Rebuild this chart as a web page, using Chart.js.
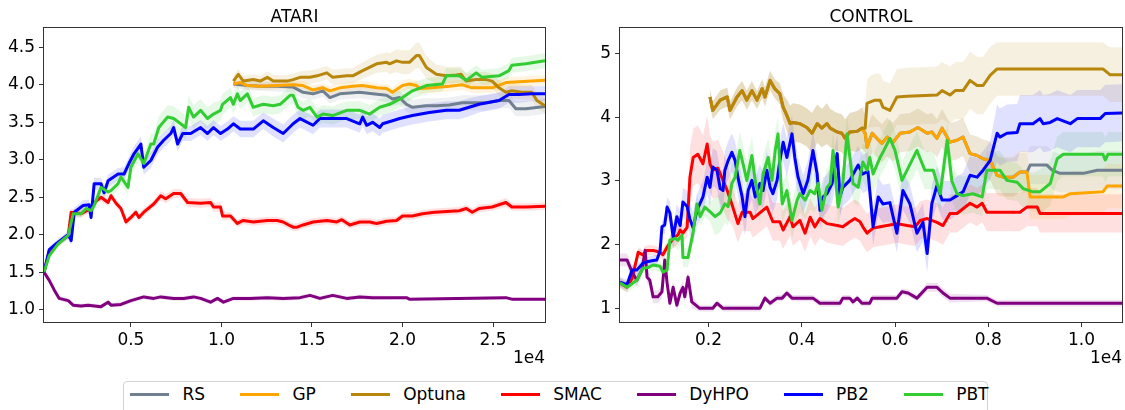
<!DOCTYPE html>
<html>
<head>
<meta charset="utf-8">
<script src="https://cdn.jsdelivr.net/npm/chart.js@4.4.0/dist/chart.umd.min.js"></script>
<style>
  html, body { margin: 0; padding: 0; background: #fff; }
  #page { position: relative; width: 1125px; height: 410px; overflow: hidden; font-family: 'DejaVu Sans', sans-serif; }
  #atari { position: absolute; left: 0; top: 0; }
  #control { position: absolute; left: 560px; top: 0; }
  #legend { position: absolute; left: 123px; top: 381px; width: 865px; height: 40px; box-sizing: border-box;
            border: 1px solid #d3d3d3; border-radius: 4px; display: flex; align-items: flex-start;
            padding: 2px 0 0 6px; gap: 34.8px; background: #fff; }
  .item { display: flex; align-items: center; height: 20px; font-size: 17px; color: #000; white-space: nowrap; }
  .swatch { width: 39px; height: 3px; margin-right: 13.5px; }
</style>
</head>
<body>
<div id="page">
  <canvas id="atari" width="560" height="372"></canvas>
  <canvas id="control" width="565" height="372"></canvas>
  <div id="legend"></div>
</div>
<script>
// ---------- methods ----------
const methods = ['RS', 'GP', 'Optuna', 'SMAC', 'DyHPO', 'PB2', 'PBT'];
const methodColors = ['#708090', '#FFA500', '#B8860B', '#FF0000', '#800080', '#0000FF', '#32CD32'];

// ---------- ATARI (x in environment steps) ----------
const atariXRange = [200, 27870];
const atariYRange = [0.835, 4.753];
const atariXTicks = [5000, 10000, 15000, 20000, 25000];
const atariYTicks = [1.0, 1.5, 2.0, 2.5, 3.0, 3.5, 4.0, 4.5];

const atariRSX = [10660, 11430, 12140, 13080, 13960, 14510, 15060, 15600, 15990, 16540, 17640, 18350, 19120, 19450, 19840, 20000, 20220, 20550, 21320, 21870, 22580, 23300, 23850, 24620, 25330, 25880, 26260, 26810, 27870];
const atariRSY = [4.01, 3.99, 3.98, 3.98, 3.97, 3.9, 3.88, 3.92, 3.83, 3.88, 3.9, 3.88, 3.86, 3.81, 3.83, 3.79, 3.74, 3.7, 3.72, 3.72, 3.73, 3.76, 3.76, 3.76, 3.79, 3.79, 3.68, 3.68, 3.71];
const atariRSS = [0.05, 0.06, 0.06, 0.07, 0.07, 0.08, 0.08, 0.08, 0.08, 0.08, 0.08, 0.08, 0.09, 0.09, 0.09, 0.09, 0.1, 0.1, 0.1, 0.1, 0.1, 0.1, 0.1, 0.1, 0.1, 0.1, 0.1, 0.1, 0.1];

const atariGPX = [10660, 11040, 11430, 12140, 13080, 13960, 14510, 15060, 15600, 15990, 16540, 17250, 17800, 18570, 19120, 19450, 20000, 20380, 20770, 20930, 21650, 22580, 23300, 23850, 24950, 25710, 26430, 27140, 27870];
const atariGPY = [4.01, 4.03, 3.99, 3.98, 3.99, 4.0, 3.99, 3.93, 3.96, 3.92, 3.96, 3.98, 3.99, 3.96, 3.95, 3.9, 3.99, 4.01, 3.99, 3.95, 3.96, 3.98, 4.0, 3.96, 3.96, 4.03, 4.04, 4.05, 4.06];
const atariGPS = [0.05, 0.05, 0.05, 0.05, 0.05, 0.05, 0.06, 0.06, 0.06, 0.06, 0.06, 0.06, 0.06, 0.06, 0.06, 0.06, 0.07, 0.07, 0.07, 0.07, 0.07, 0.07, 0.07, 0.07, 0.07, 0.07, 0.07, 0.07, 0.07];

const atariOptunaX = [10660, 10930, 11210, 11760, 12140, 12530, 12860, 13630, 13960, 14340, 14890, 15280, 15820, 16150, 16920, 17250, 17800, 18570, 19120, 19290, 19670, 20000, 20380, 20770, 20930, 21320, 21870, 22420, 22970, 23240, 23520, 24070, 24620, 24950, 25330, 25710, 26040, 26590, 27140, 27420, 27870];
const atariOptunaY = [4.05, 4.14, 4.05, 4.07, 4.05, 4.1, 4.05, 4.05, 4.07, 4.1, 4.1, 4.12, 4.16, 4.1, 4.12, 4.12, 4.19, 4.28, 4.3, 4.28, 4.32, 4.3, 4.3, 4.39, 4.39, 4.23, 4.14, 4.12, 4.13, 4.14, 4.05, 4.07, 4.07, 4.05, 3.96, 3.9, 3.92, 3.9, 3.9, 3.79, 3.72];
const atariOptunaS = [0.07, 0.07, 0.07, 0.07, 0.07, 0.08, 0.08, 0.08, 0.08, 0.08, 0.09, 0.09, 0.09, 0.1, 0.1, 0.1, 0.11, 0.12, 0.13, 0.14, 0.15, 0.16, 0.16, 0.17, 0.17, 0.15, 0.13, 0.12, 0.11, 0.1, 0.1, 0.1, 0.1, 0.1, 0.1, 0.1, 0.1, 0.1, 0.1, 0.1, 0.1];

const atariSMACX = [200, 490, 880, 1260, 1540, 1700, 2250, 2800, 3080, 3350, 3740, 3900, 4180, 4450, 4730, 5000, 5270, 5440, 5710, 6260, 6650, 6920, 7360, 7750, 8130, 8850, 9400, 9560, 9950, 10060, 10500, 10880, 11210, 11760, 12530, 13080, 13410, 13790, 13960, 14180, 14510, 15060, 15820, 16370, 16650, 17090, 17640, 18190, 18570, 19120, 19670, 20000, 20550, 21100, 21760, 23130, 23520, 23850, 24230, 24950, 25710, 26040, 26810, 27870];
const atariSMACY = [1.5, 1.78, 1.87, 1.94, 1.99, 2.3, 2.28, 2.35, 2.45, 2.5, 2.43, 2.52, 2.42, 2.35, 2.17, 2.23, 2.3, 2.23, 2.3, 2.41, 2.52, 2.48, 2.55, 2.55, 2.43, 2.42, 2.43, 2.37, 2.37, 2.25, 2.25, 2.15, 2.19, 2.17, 2.19, 2.19, 2.17, 2.12, 2.1, 2.1, 2.13, 2.17, 2.19, 2.17, 2.2, 2.13, 2.17, 2.17, 2.15, 2.18, 2.19, 2.25, 2.25, 2.28, 2.3, 2.32, 2.35, 2.3, 2.35, 2.37, 2.43, 2.37, 2.37, 2.38];
const atariSMACS = [0.02, 0.03, 0.04, 0.04, 0.04, 0.05, 0.05, 0.05, 0.05, 0.05, 0.05, 0.05, 0.05, 0.05, 0.05, 0.05, 0.05, 0.05, 0.05, 0.05, 0.06, 0.06, 0.06, 0.06, 0.06, 0.06, 0.06, 0.06, 0.06, 0.06, 0.05, 0.05, 0.05, 0.05, 0.05, 0.05, 0.05, 0.05, 0.05, 0.05, 0.05, 0.05, 0.05, 0.05, 0.05, 0.05, 0.05, 0.05, 0.05, 0.05, 0.05, 0.05, 0.05, 0.05, 0.05, 0.05, 0.05, 0.05, 0.05, 0.05, 0.06, 0.05, 0.05, 0.05];

const atariDyHPOX = [200, 490, 770, 1040, 1540, 1810, 2250, 2640, 3350, 3740, 3900, 4450, 5000, 5710, 6260, 6650, 7360, 7910, 8460, 8850, 9400, 9780, 10110, 10660, 11590, 12530, 13410, 14340, 14890, 15440, 16150, 16920, 17640, 18350, 20220, 20380, 25710, 26040, 27870];
const atariDyHPOY = [1.5, 1.39, 1.26, 1.15, 1.12, 1.06, 1.05, 1.06, 1.04, 1.1, 1.06, 1.07, 1.12, 1.17, 1.15, 1.17, 1.15, 1.15, 1.17, 1.15, 1.1, 1.15, 1.1, 1.15, 1.15, 1.16, 1.15, 1.16, 1.19, 1.15, 1.19, 1.15, 1.17, 1.16, 1.16, 1.14, 1.16, 1.14, 1.14];
const atariDyHPOS = [0.01, 0.03, 0.03, 0.03, 0.03, 0.03, 0.03, 0.03, 0.03, 0.03, 0.03, 0.03, 0.03, 0.03, 0.03, 0.03, 0.03, 0.03, 0.03, 0.03, 0.03, 0.03, 0.03, 0.03, 0.03, 0.03, 0.03, 0.03, 0.03, 0.03, 0.03, 0.03, 0.03, 0.03, 0.02, 0.02, 0.02, 0.02, 0.02];

const atariPB2X = [200, 490, 880, 1260, 1540, 1700, 1870, 2360, 2690, 2800, 2970, 3350, 3520, 3740, 4290, 4620, 4890, 5170, 5550, 5710, 6100, 6480, 6810, 7200, 7360, 7580, 7860, 8300, 8850, 9230, 9560, 9950, 10330, 10660, 11040, 11760, 12310, 12860, 13410, 13960, 14340, 15060, 15440, 16920, 17640, 17800, 18020, 18350, 18740, 18900, 19450, 19840, 20550, 21480, 22420, 23130, 23680, 24230, 25330, 25880, 26430, 27140, 27870];
const atariPB2Y = [1.5, 1.8, 1.88, 1.95, 2.0, 1.92, 2.3, 2.39, 2.4, 2.23, 2.68, 2.68, 2.56, 2.72, 2.81, 2.81, 2.95, 3.08, 3.21, 2.9, 2.99, 3.17, 3.26, 3.35, 3.43, 3.21, 3.35, 3.35, 3.43, 3.35, 3.43, 3.35, 3.41, 3.48, 3.41, 3.41, 3.52, 3.43, 3.35, 3.48, 3.55, 3.46, 3.55, 3.55, 3.48, 3.57, 3.46, 3.5, 3.43, 3.48, 3.52, 3.55, 3.59, 3.63, 3.66, 3.66, 3.7, 3.74, 3.79, 3.87, 3.87, 3.88, 3.88];
const atariPB2S = [0.02, 0.04, 0.05, 0.05, 0.06, 0.06, 0.06, 0.07, 0.07, 0.07, 0.08, 0.08, 0.08, 0.08, 0.08, 0.09, 0.09, 0.1, 0.1, 0.1, 0.1, 0.1, 0.1, 0.1, 0.1, 0.1, 0.1, 0.1, 0.1, 0.1, 0.1, 0.1, 0.1, 0.1, 0.11, 0.11, 0.11, 0.12, 0.12, 0.12, 0.12, 0.12, 0.12, 0.12, 0.12, 0.12, 0.12, 0.12, 0.12, 0.12, 0.12, 0.12, 0.12, 0.12, 0.12, 0.12, 0.12, 0.11, 0.11, 0.11, 0.11, 0.1, 0.1];

const atariPBTX = [200, 490, 990, 1540, 1810, 2250, 2530, 2800, 2970, 3350, 3740, 3900, 4290, 4450, 4840, 5000, 5390, 5710, 6100, 6260, 6540, 7030, 7360, 7750, 8020, 8190, 8460, 8850, 9230, 9560, 9950, 10060, 10500, 10660, 10880, 11040, 11430, 11760, 12310, 12860, 13240, 13790, 13960, 14230, 14510, 14890, 15280, 15600, 16150, 16920, 17640, 18190, 18740, 19290, 20000, 20550, 21320, 22200, 22420, 23130, 23520, 24070, 24400, 25330, 25880, 26040, 26810, 27870];
const atariPBTY = [1.5, 1.72, 1.88, 1.99, 2.28, 2.28, 2.35, 2.32, 2.39, 2.63, 2.57, 2.59, 2.68, 2.77, 2.63, 2.9, 3.08, 2.95, 3.21, 3.21, 3.43, 3.57, 3.55, 3.48, 3.43, 3.7, 3.57, 3.66, 3.55, 3.61, 3.66, 3.74, 3.83, 3.74, 3.88, 3.79, 3.88, 3.7, 3.74, 3.72, 3.74, 3.86, 3.86, 3.7, 3.66, 3.7, 3.57, 3.61, 3.59, 3.66, 3.66, 3.61, 3.7, 3.74, 3.83, 3.92, 3.99, 4.01, 4.12, 4.12, 4.06, 4.16, 4.1, 4.12, 4.19, 4.26, 4.28, 4.32];
const atariPBTS = [0.02, 0.04, 0.05, 0.05, 0.06, 0.06, 0.06, 0.07, 0.07, 0.08, 0.08, 0.08, 0.09, 0.1, 0.1, 0.1, 0.12, 0.12, 0.14, 0.14, 0.15, 0.16, 0.16, 0.16, 0.16, 0.16, 0.16, 0.15, 0.15, 0.15, 0.14, 0.14, 0.13, 0.13, 0.12, 0.12, 0.12, 0.12, 0.12, 0.12, 0.12, 0.12, 0.12, 0.12, 0.12, 0.12, 0.12, 0.12, 0.12, 0.12, 0.12, 0.12, 0.11, 0.11, 0.11, 0.11, 0.1, 0.1, 0.1, 0.1, 0.1, 0.1, 0.1, 0.1, 0.1, 0.1, 0.1, 0.1];

// ---------- CONTROL (x in environment steps) ----------
const ctrlXRange = [100, 10870];
const ctrlYRange = [0.785, 5.397];
const ctrlXTicks = [2000, 4000, 6000, 8000, 10000];
const ctrlYTicks = [1, 2, 3, 4, 5];

// RS, GP and Optuna share the same trajectory until ~0.53e4
const ctrlSharedX = [2030, 2090, 2250, 2400, 2460, 2610, 2720, 2820, 2930, 3040, 3150, 3210, 3320, 3420, 3530, 3600, 3680, 3750, 3810, 3960, 4110, 4220, 4330, 4430, 4540, 4610, 4760, 4860, 4930, 5030, 5190, 5290];
const ctrlSharedY = [4.32, 4.11, 4.27, 4.32, 4.11, 4.32, 4.42, 4.27, 4.42, 4.27, 4.45, 4.32, 4.58, 4.45, 4.37, 4.16, 4.03, 3.9, 3.92, 3.9, 3.84, 3.75, 3.9, 3.83, 3.9, 3.83, 3.77, 3.75, 3.67, 3.77, 3.78, 3.83];
const ctrlSharedS = [0.12, 0.14, 0.15, 0.15, 0.14, 0.15, 0.15, 0.15, 0.15, 0.14, 0.15, 0.15, 0.15, 0.15, 0.16, 0.2, 0.25, 0.28, 0.3, 0.3, 0.3, 0.32, 0.3, 0.3, 0.32, 0.3, 0.3, 0.3, 0.3, 0.3, 0.32, 0.32];

const ctrlRSTailX = [5360, 5400, 5510, 5610, 5720, 5830, 5960, 6110, 6320, 6490, 6690, 6790, 6900, 7010, 7180, 7330, 7460, 7610, 7760, 7890, 8040, 8190, 8320, 8530, 8680, 8830, 8900, 9260, 9370, 9540, 10040, 10340, 10870];
const ctrlRSTailY = [3.75, 3.53, 3.75, 3.67, 3.59, 3.69, 3.61, 3.75, 3.77, 3.84, 3.75, 3.77, 3.67, 3.83, 3.61, 3.64, 3.69, 3.43, 3.4, 3.35, 3.32, 3.09, 3.06, 3.06, 3.14, 3.14, 3.25, 3.25, 3.17, 3.12, 3.12, 3.17, 3.17];
const ctrlRSTailS = [0.3, 0.3, 0.3, 0.3, 0.3, 0.3, 0.3, 0.3, 0.3, 0.3, 0.3, 0.3, 0.3, 0.3, 0.3, 0.3, 0.3, 0.3, 0.3, 0.3, 0.3, 0.3, 0.3, 0.3, 0.3, 0.3, 0.3, 0.3, 0.3, 0.3, 0.3, 0.3, 0.3];

const ctrlGPTailX = [5360, 5400, 5510, 5610, 5720, 5830, 5960, 6110, 6320, 6490, 6690, 6790, 6900, 7010, 7180, 7330, 7460, 7610, 7760, 7890, 8040, 8190, 8320, 8530, 8680, 8830, 8900, 9610, 9760, 10460, 10550, 10870];
const ctrlGPTailY = [3.75, 3.53, 3.75, 3.67, 3.59, 3.69, 3.61, 3.75, 3.77, 3.84, 3.75, 3.77, 3.67, 3.83, 3.61, 3.64, 3.69, 3.43, 3.4, 3.35, 3.32, 3.09, 3.06, 3.06, 3.14, 3.14, 2.75, 2.75, 2.8, 2.83, 2.92, 2.92];
const ctrlGPTailS = [0.3, 0.3, 0.3, 0.3, 0.3, 0.3, 0.3, 0.3, 0.3, 0.3, 0.3, 0.3, 0.3, 0.3, 0.3, 0.3, 0.3, 0.3, 0.3, 0.3, 0.3, 0.32, 0.32, 0.32, 0.33, 0.33, 0.35, 0.35, 0.35, 0.35, 0.35, 0.35];

const ctrlOptunaTailX = [5360, 5400, 5460, 5570, 5680, 5740, 5890, 6040, 6260, 6900, 7010, 7180, 7290, 7460, 7610, 7760, 7890, 8040, 8190, 10460, 10610, 10870];
const ctrlOptunaTailY = [3.83, 4.22, 4.24, 4.27, 4.27, 4.16, 4.11, 4.32, 4.33, 4.35, 4.42, 4.35, 4.42, 4.42, 4.58, 4.5, 4.5, 4.66, 4.76, 4.76, 4.67, 4.67];
const ctrlOptunaTailS = [0.34, 0.38, 0.4, 0.42, 0.42, 0.42, 0.42, 0.44, 0.45, 0.45, 0.45, 0.45, 0.45, 0.45, 0.45, 0.45, 0.45, 0.45, 0.42, 0.42, 0.43, 0.43];

const ctrlSMACX = [100, 250, 360, 490, 590, 680, 810, 960, 1020, 1110, 1240, 1340, 1390, 1450, 1540, 1600, 1670, 1770, 1880, 1970, 2030, 2090, 2200, 2310, 2400, 2520, 2630, 2720, 2890, 2950, 3100, 3250, 3380, 3530, 3600, 3750, 3810, 3960, 4070, 4180, 4280, 4390, 4540, 4760, 4880, 5030, 5140, 5250, 5310, 5400, 5530, 5680, 5830, 6040, 6260, 6430, 6540, 6690, 6900, 7030, 7180, 7330, 7610, 7760, 7870, 7970, 8680, 8830, 9050, 9110, 10870];
const ctrlSMACY = [1.4, 1.33, 1.47, 1.88, 1.84, 1.91, 1.91, 1.88, 1.84, 1.96, 2.1, 2.15, 2.23, 2.18, 2.27, 3.06, 3.37, 3.42, 3.27, 3.58, 3.27, 3.17, 3.2, 3.01, 2.85, 2.59, 2.33, 2.51, 2.51, 2.41, 2.5, 2.59, 2.36, 2.36, 2.23, 2.44, 2.28, 2.38, 2.18, 2.43, 2.28, 2.41, 2.33, 2.3, 2.28, 2.36, 2.41, 2.36, 2.28, 2.18, 2.26, 2.28, 2.3, 2.33, 2.3, 2.28, 2.38, 2.41, 2.35, 2.3, 2.49, 2.49, 2.65, 2.59, 2.65, 2.51, 2.51, 2.59, 2.59, 2.49, 2.49];
const ctrlSMACS = [0.08, 0.08, 0.08, 0.08, 0.08, 0.08, 0.08, 0.08, 0.08, 0.08, 0.15, 0.15, 0.15, 0.15, 0.15, 0.45, 0.45, 0.45, 0.45, 0.45, 0.45, 0.45, 0.45, 0.45, 0.45, 0.3, 0.3, 0.3, 0.3, 0.3, 0.3, 0.3, 0.3, 0.3, 0.3, 0.3, 0.3, 0.3, 0.3, 0.3, 0.3, 0.3, 0.3, 0.3, 0.3, 0.3, 0.3, 0.3, 0.3, 0.3, 0.3, 0.3, 0.3, 0.3, 0.3, 0.3, 0.3, 0.3, 0.3, 0.3, 0.3, 0.3, 0.3, 0.3, 0.3, 0.3, 0.3, 0.3, 0.3, 0.3, 0.3];

const ctrlDyHPOX = [100, 250, 360, 460, 570, 640, 680, 740, 810, 910, 1000, 1060, 1110, 1170, 1240, 1320, 1390, 1450, 1490, 1560, 1640, 1810, 2090, 2180, 2310, 3100, 3210, 3320, 3470, 3580, 3680, 3790, 4240, 4390, 4820, 4880, 5030, 5100, 5190, 5290, 5460, 5510, 6040, 6150, 6280, 6470, 6690, 6900, 7030, 7180, 7970, 8190, 10870];
const ctrlDyHPOY = [1.76, 1.76, 1.57, 1.44, 1.6, 1.91, 1.49, 1.44, 1.18, 1.18, 1.26, 1.76, 1.4, 1.08, 1.33, 1.05, 1.24, 1.33, 1.18, 1.49, 1.1, 1.0, 1.0, 1.08, 1.0, 1.0, 1.16, 1.08, 1.16, 1.16, 1.24, 1.16, 1.16, 1.08, 1.08, 1.16, 1.16, 1.1, 1.16, 1.08, 1.08, 1.16, 1.16, 1.26, 1.24, 1.16, 1.33, 1.33, 1.24, 1.16, 1.16, 1.08, 1.08];
const ctrlDyHPOS = [0.1, 0.1, 0.1, 0.1, 0.1, 0.1, 0.1, 0.1, 0.1, 0.1, 0.1, 0.1, 0.1, 0.1, 0.1, 0.1, 0.1, 0.1, 0.1, 0.1, 0.1, 0.05, 0.05, 0.05, 0.05, 0.05, 0.05, 0.05, 0.05, 0.05, 0.05, 0.05, 0.05, 0.05, 0.05, 0.05, 0.05, 0.05, 0.05, 0.05, 0.05, 0.05, 0.05, 0.05, 0.05, 0.05, 0.07, 0.07, 0.07, 0.07, 0.05, 0.05, 0.05];

const ctrlPB2X = [100, 250, 360, 460, 590, 680, 810, 890, 960, 1000, 1060, 1110, 1170, 1240, 1320, 1390, 1450, 1540, 1600, 1670, 1750, 1880, 1970, 2030, 2090, 2180, 2250, 2310, 2350, 2420, 2500, 2570, 2630, 2720, 2780, 2850, 2930, 3000, 3100, 3170, 3250, 3320, 3380, 3470, 3530, 3600, 3680, 3790, 3850, 3920, 4030, 4130, 4240, 4330, 4390, 4460, 4540, 4650, 4760, 4820, 4880, 5030, 5210, 5310, 5420, 5530, 5640, 5740, 5890, 6040, 6170, 6320, 6470, 6600, 6690, 6790, 6900, 7010, 7180, 7330, 7460, 7610, 7760, 7890, 8040, 8190, 8250, 8400, 8620, 8680, 8960, 9110, 9180, 9330, 9480, 9760, 9910, 10400, 10510, 10870];
const ctrlPB2Y = [1.41, 1.37, 1.6, 1.6, 1.71, 1.73, 1.75, 1.76, 1.9, 2.28, 2.31, 2.59, 2.5, 2.12, 2.44, 2.3, 2.67, 2.6, 2.4, 2.26, 2.54, 2.75, 3.06, 2.9, 3.22, 3.17, 2.88, 2.85, 3.17, 3.32, 3.45, 3.32, 3.06, 2.75, 2.44, 2.85, 3.01, 2.75, 2.96, 2.85, 3.17, 2.9, 2.8, 3.01, 3.32, 3.61, 3.37, 3.74, 3.37, 3.06, 2.8, 3.01, 3.48, 3.11, 2.54, 2.75, 2.8, 2.96, 3.43, 2.75, 2.9, 3.01, 3.25, 3.11, 3.15, 2.28, 2.75, 2.64, 2.66, 2.18, 2.85, 2.64, 2.18, 2.35, 1.86, 2.64, 2.93, 2.7, 2.7, 2.77, 2.83, 3.09, 3.06, 3.17, 3.32, 3.75, 3.69, 3.75, 3.76, 3.9, 3.9, 3.98, 3.9, 3.92, 3.98, 3.9, 3.98, 3.98, 4.06, 4.07];
const ctrlPB2S = [0.08, 0.08, 0.08, 0.08, 0.08, 0.08, 0.08, 0.08, 0.08, 0.08, 0.15, 0.15, 0.18, 0.2, 0.2, 0.22, 0.22, 0.25, 0.25, 0.25, 0.25, 0.25, 0.25, 0.3, 0.3, 0.3, 0.3, 0.3, 0.3, 0.3, 0.3, 0.3, 0.3, 0.3, 0.3, 0.3, 0.3, 0.3, 0.3, 0.3, 0.3, 0.3, 0.3, 0.3, 0.3, 0.3, 0.3, 0.3, 0.3, 0.3, 0.3, 0.3, 0.3, 0.3, 0.3, 0.3, 0.3, 0.3, 0.3, 0.3, 0.3, 0.3, 0.3, 0.3, 0.3, 0.3, 0.3, 0.3, 0.3, 0.3, 0.3, 0.3, 0.3, 0.3, 0.3, 0.3, 0.3, 0.3, 0.3, 0.3, 0.3, 0.3, 0.3, 0.3, 0.3, 0.45, 0.45, 0.45, 0.45, 0.45, 0.45, 0.45, 0.45, 0.45, 0.45, 0.45, 0.45, 0.45, 0.45, 0.45];

const ctrlPBTX = [100, 250, 460, 590, 700, 810, 960, 1020, 1110, 1170, 1280, 1340, 1430, 1450, 1560, 1670, 1750, 1820, 1920, 2030, 2140, 2250, 2350, 2420, 2500, 2570, 2670, 2740, 2820, 2930, 3000, 3100, 3170, 3280, 3360, 3430, 3490, 3580, 3680, 3790, 3900, 3960, 4070, 4180, 4280, 4350, 4430, 4540, 4610, 4670, 4780, 4880, 4970, 5100, 5210, 5310, 5400, 5460, 5530, 5680, 5740, 5890, 6000, 6150, 6470, 6640, 6820, 6970, 7120, 7220, 7330, 7460, 7670, 7870, 7970, 8250, 8400, 8620, 8750, 8960, 9110, 9330, 9480, 9610, 10460, 10510, 10570, 10870];
const ctrlPBTY = [1.4, 1.33, 1.44, 1.63, 1.64, 1.68, 1.66, 1.57, 1.6, 2.07, 2.1, 2.07, 2.15, 1.8, 1.8, 2.2, 2.64, 2.44, 2.59, 2.52, 2.44, 2.5, 2.64, 2.6, 2.96, 3.06, 3.48, 3.27, 3.01, 3.4, 3.01, 2.64, 3.11, 3.37, 3.01, 3.48, 3.74, 2.64, 2.85, 2.38, 2.7, 2.8, 2.7, 2.85, 2.8, 2.96, 2.54, 2.9, 2.96, 3.48, 2.59, 2.96, 3.74, 2.96, 2.9, 3.3, 3.17, 3.37, 3.11, 3.37, 3.45, 3.67, 3.48, 3.01, 3.48, 3.17, 3.17, 2.8, 3.64, 3.0, 2.8, 2.77, 2.8, 2.75, 3.17, 3.17, 3.01, 2.98, 2.88, 2.83, 2.83, 2.96, 3.35, 3.42, 3.42, 3.33, 3.42, 3.42];
const ctrlPBTS = [0.08, 0.08, 0.08, 0.08, 0.08, 0.08, 0.08, 0.08, 0.08, 0.08, 0.15, 0.15, 0.15, 0.15, 0.15, 0.15, 0.15, 0.15, 0.15, 0.15, 0.3, 0.3, 0.3, 0.3, 0.3, 0.3, 0.3, 0.3, 0.3, 0.3, 0.3, 0.3, 0.3, 0.3, 0.3, 0.3, 0.3, 0.3, 0.3, 0.3, 0.3, 0.3, 0.3, 0.3, 0.3, 0.3, 0.3, 0.3, 0.3, 0.3, 0.3, 0.3, 0.3, 0.3, 0.3, 0.3, 0.3, 0.3, 0.3, 0.3, 0.3, 0.3, 0.3, 0.3, 0.3, 0.3, 0.3, 0.3, 0.3, 0.3, 0.3, 0.3, 0.3, 0.3, 0.3, 0.3, 0.3, 0.3, 0.3, 0.3, 0.35, 0.35, 0.35, 0.35, 0.35, 0.35, 0.35, 0.35];

// ---------- drawing ----------
Chart.defaults.font.family = "'DejaVu Sans', sans-serif";
Chart.defaults.font.size = 17;
Chart.defaults.color = '#000';

const AXIS = '#333333';

function bandColor(hex, a) {
  const n = parseInt(hex.slice(1), 16);
  return `rgba(${(n >> 16) & 255},${(n >> 8) & 255},${n & 255},${a})`;
}

// box around the plotting area (all four spines)
const frame = {
  id: 'frame',
  afterDatasetsDraw(chart) {
    const { ctx, chartArea: a } = chart;
    ctx.save();
    ctx.strokeStyle = AXIS;
    ctx.lineWidth = 1;
    const l = Math.round(a.left), t = Math.round(a.top), r = Math.round(a.right), b = Math.round(a.bottom);
    ctx.strokeRect(l - 0.5, t - 0.5, r - l + 1, b - t + 1);
    ctx.restore();
  }
};

function buildDatasets(series) {
  const ds = [];
  series.forEach(s => {
    ds.push({ data: s.x.map((x, i) => ({ x, y: s.y[i] - s.s[i] })), borderWidth: 0, borderColor: 'rgba(0,0,0,0)',
              pointRadius: 0, fill: false, order: 100 });
    ds.push({ data: s.x.map((x, i) => ({ x, y: s.y[i] + s.s[i] })), borderWidth: 0, borderColor: 'rgba(0,0,0,0)',
              pointRadius: 0, fill: '-1', backgroundColor: bandColor(s.color, 0.12), order: 100 });
  });
  series.forEach((s, k) => {
    ds.push({ label: s.name, data: s.x.map((x, i) => ({ x, y: s.y[i] })), borderColor: s.color, borderWidth: 3,
              pointRadius: 0, fill: false, order: series.length - k, borderJoinStyle: 'round', borderCapStyle: 'butt' });
  });
  return ds;
}

function panel(id, title, series, xRange, yRange, xTicks, yTicks, yLabel, yAxisWidth, padRight) {
  new Chart(document.getElementById(id), {
    type: 'line',
    data: { datasets: buildDatasets(series) },
    options: {
      responsive: false, animation: false, devicePixelRatio: 1, events: [],
      layout: { padding: { left: 0, right: padRight, top: 0, bottom: 0 } },
      plugins: {
        legend: { display: false },
        tooltip: { enabled: false },
        filler: { drawTime: 'beforeDatasetsDraw' },
        title: { display: true, text: title, fullSize: false, color: '#000',
                 font: { size: 17, weight: 'normal' }, padding: { top: 7, bottom: 1 } }
      },
      scales: {
        x: {
          type: 'linear', min: xRange[0], max: xRange[1],
          afterBuildTicks: sc => { sc.ticks = xTicks.map(v => ({ value: v })); },
          afterFit: sc => { sc.height = 50; },
          ticks: { callback: v => (v / 1e4).toFixed(1), color: '#000', font: { size: 17 }, padding: 3,
                   maxRotation: 0, autoSkip: false },
          grid: { display: true, drawOnChartArea: false, drawTicks: true, tickLength: 5, tickColor: AXIS, tickWidth: 1 },
          border: { display: false },
          title: { display: true, text: '1e4', align: 'end', color: '#000', font: { size: 17 },
                   padding: { top: 0, bottom: 3 } }
        },
        y: {
          type: 'linear', min: yRange[0], max: yRange[1],
          afterBuildTicks: sc => { sc.ticks = yTicks.map(v => ({ value: v })); },
          afterFit: sc => { sc.width = yAxisWidth; },
          ticks: { callback: yLabel, color: '#000', font: { size: 17 }, padding: 4, autoSkip: false },
          grid: { display: true, drawOnChartArea: false, drawTicks: true, tickLength: 5, tickColor: AXIS, tickWidth: 1 },
          border: { display: false }
        }
      }
    },
    plugins: [frame]
  });
}

const atariSeries = [
  { name: 'RS', color: methodColors[0], x: atariRSX, y: atariRSY, s: atariRSS },
  { name: 'GP', color: methodColors[1], x: atariGPX, y: atariGPY, s: atariGPS },
  { name: 'Optuna', color: methodColors[2], x: atariOptunaX, y: atariOptunaY, s: atariOptunaS },
  { name: 'SMAC', color: methodColors[3], x: atariSMACX, y: atariSMACY, s: atariSMACS },
  { name: 'DyHPO', color: methodColors[4], x: atariDyHPOX, y: atariDyHPOY, s: atariDyHPOS },
  { name: 'PB2', color: methodColors[5], x: atariPB2X, y: atariPB2Y, s: atariPB2S },
  { name: 'PBT', color: methodColors[6], x: atariPBTX, y: atariPBTY, s: atariPBTS }
];

const ctrlSeries = [
  { name: 'RS', color: methodColors[0], x: ctrlSharedX.concat(ctrlRSTailX), y: ctrlSharedY.concat(ctrlRSTailY), s: ctrlSharedS.concat(ctrlRSTailS) },
  { name: 'GP', color: methodColors[1], x: ctrlSharedX.concat(ctrlGPTailX), y: ctrlSharedY.concat(ctrlGPTailY), s: ctrlSharedS.concat(ctrlGPTailS) },
  { name: 'Optuna', color: methodColors[2], x: ctrlSharedX.concat(ctrlOptunaTailX), y: ctrlSharedY.concat(ctrlOptunaTailY), s: ctrlSharedS.concat(ctrlOptunaTailS) },
  { name: 'SMAC', color: methodColors[3], x: ctrlSMACX, y: ctrlSMACY, s: ctrlSMACS },
  { name: 'DyHPO', color: methodColors[4], x: ctrlDyHPOX, y: ctrlDyHPOY, s: ctrlDyHPOS },
  { name: 'PB2', color: methodColors[5], x: ctrlPB2X, y: ctrlPB2Y, s: ctrlPB2S },
  { name: 'PBT', color: methodColors[6], x: ctrlPBTX, y: ctrlPBTY, s: ctrlPBTS }
];

panel('atari', 'ATARI', atariSeries, atariXRange, atariYRange, atariXTicks, atariYTicks, v => v.toFixed(1), 44, 15);
panel('control', 'CONTROL', ctrlSeries, ctrlXRange, ctrlYRange, ctrlXTicks, ctrlYTicks, v => String(v), 60, 3);

// shared legend below both panels
const legend = document.getElementById('legend');
methods.forEach((m, i) => {
  const item = document.createElement('div');
  item.className = 'item';
  const sw = document.createElement('div');
  sw.className = 'swatch';
  sw.style.background = methodColors[i];
  const label = document.createElement('span');
  label.textContent = m;
  item.appendChild(sw);
  item.appendChild(label);
  legend.appendChild(item);
});
</script>
</body>
</html>
